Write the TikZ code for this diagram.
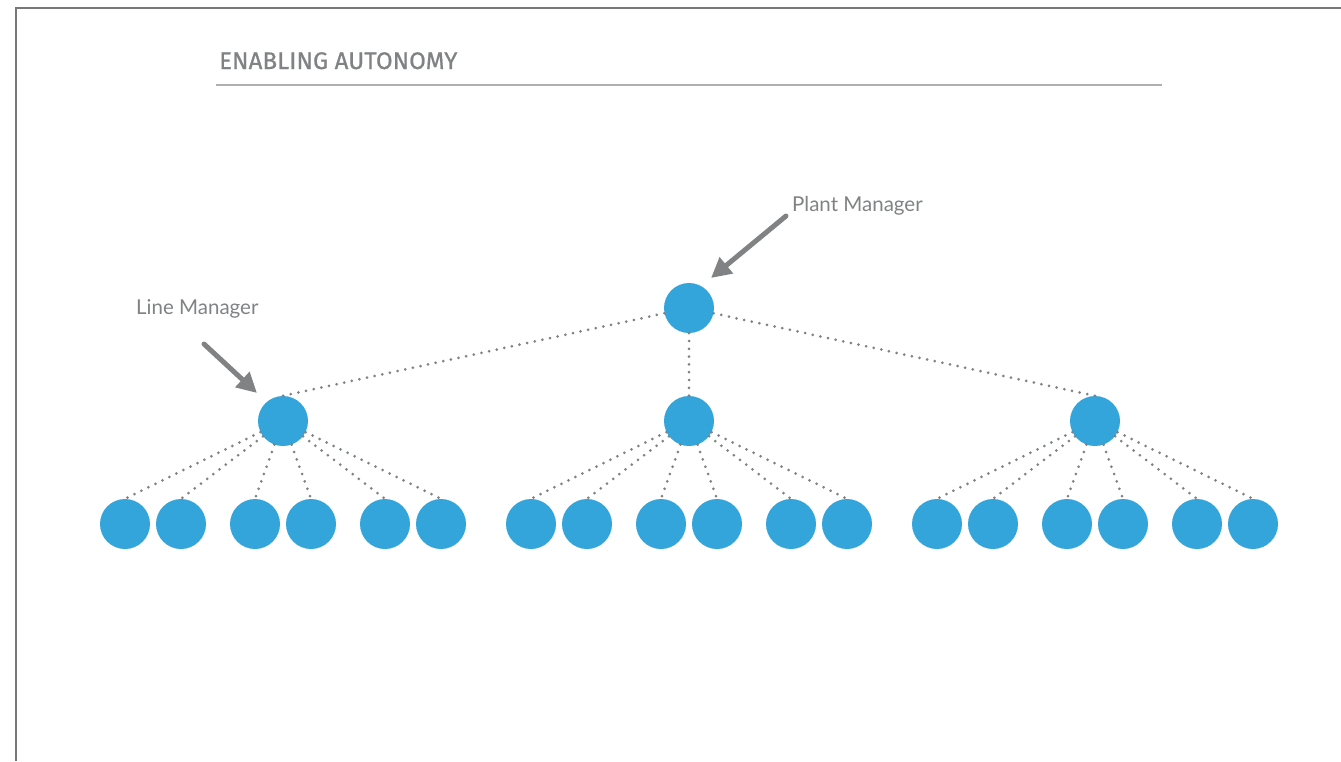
\documentclass[tikz,border=0pt]{standalone}
\usepackage{fontspec}
\setmainfont{Lato}
\newfontfamily\titlefont[LetterSpace=0.5,FakeBold=0.8]{Fira Sans}
\usetikzlibrary{arrows.meta}
\usetikzlibrary{positioning}

\definecolor{nodeblue}{RGB}{52,165,218}
\definecolor{labelgray}{RGB}{128,130,131}
\definecolor{framegray}{RGB}{120,120,120}
\definecolor{rulegray}{RGB}{175,175,175}

\begin{document}
\begin{tikzpicture}[x=1pt,y=-1pt]

\tikzset{
    person/.style={circle, fill=nodeblue, minimum size=50pt, inner sep=0pt},
    link/.style={labelgray, line width=3pt, line cap=round, dash pattern=on 0pt off 7.8pt},
    pointer/.style={-{Triangle[length=20pt,width=20pt]}, labelgray, line width=5pt, line cap=round},
    caption/.style={text=labelgray, font=\fontsize{20.5}{24}\selectfont, anchor=base west, inner sep=0pt}
}

% spacing of the three teams
\pgfmathsetmacro{\G}{406}

\useasboundingbox (0,0) rectangle (1341,761);

%frame
\draw[framegray, line width=2pt] (16,761) -- (16,8) -- (1341,8);

%title
\node[caption, font=\titlefont\fontsize{24}{28}\selectfont] (title) at (219,69) {ENABLING AUTONOMY};
\draw[rulegray, line width=1.5pt] (216,85) -- (1162,85);

%plant manager
\node[person] (plant) at (689,308) {};

%line managers
\foreach \i in {1,2,3}{
  \node[person] (line\i) at ({283+(\i-1)*\G},421) {};
}

\draw[link] (plant) -- (line1.north);
\draw[link] (plant) -- (line2);
\draw[link] (plant) -- (line3.north);

%workers
\foreach \i in {1,2,3}{
  \foreach \d [count=\j] in {-158,-102,-28,28,102,158}{
    \node[person] (w\i\j) at ({283+(\i-1)*\G+\d},524) {};
    \draw[link] (line\i) -- (w\i\j.north);
  }
}

%labels
\node[caption] (lm label) at (136,314) {Line Manager};
\node[caption] (pm label) at (792,211) {Plant Manager};

%arrows
\coordinate (lm tail) at (204,344);
\coordinate (lm tip) at (257,393);
\draw[pointer] (lm tail) -- (lm tip);

\coordinate (pm tail) at (786,216);
\coordinate (pm tip) at (711,278);
\draw[pointer] (pm tail) -- (pm tip);

\end{tikzpicture}
\end{document}
